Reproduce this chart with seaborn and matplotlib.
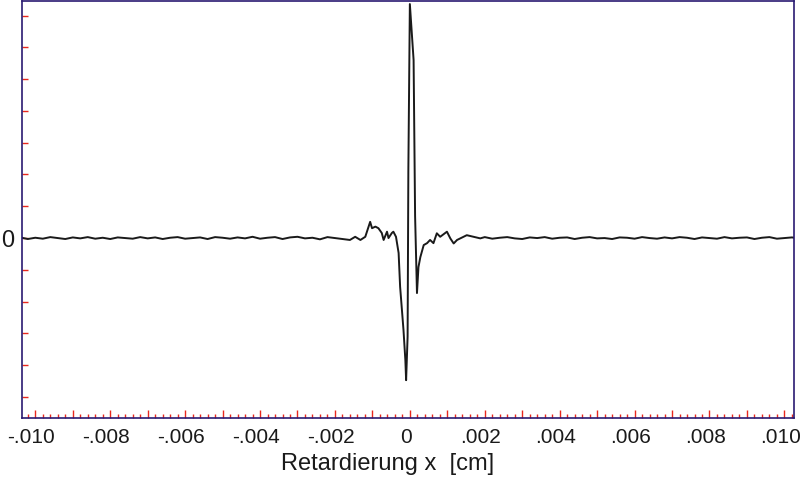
import numpy as np
import pandas as pd
import matplotlib
matplotlib.use('Agg')
import matplotlib.pyplot as plt
import matplotlib.transforms as mtransforms
import seaborn as sns
from matplotlib.ticker import MultipleLocator

# Interferogramm: Signal gegen Retardierung x [cm]
# Grundlinie links (leichtes Rauschen)
left_x = [-0.0104, -0.0102, -0.0100, -0.0098, -0.0096, -0.0094, -0.0092, -0.0090, -0.0088, -0.0086,
          -0.0084, -0.0082, -0.0080, -0.0078, -0.0076, -0.0074, -0.0072, -0.0070, -0.0068, -0.0066,
          -0.0064, -0.0062, -0.0060, -0.0058, -0.0056, -0.0054, -0.0052, -0.0050, -0.0048, -0.0046,
          -0.0044, -0.0042, -0.0040, -0.0038, -0.0036, -0.0034, -0.0032, -0.0030, -0.0028, -0.0026,
          -0.0024, -0.0022, -0.0020, -0.0018, -0.0016]
left_y = [0.02, -0.03, 0.01, -0.02, 0.03, 0.00, -0.03, 0.02, -0.01, 0.03,
          -0.02, 0.01, -0.03, 0.02, 0.00, -0.02, 0.03, -0.01, 0.02, -0.03,
          0.01, 0.03, -0.02, 0.00, 0.02, -0.03, 0.03, 0.01, -0.02, 0.02,
          -0.01, 0.04, -0.02, 0.01, 0.03, -0.03, 0.02, 0.04, -0.01, 0.01,
          -0.04, 0.03, 0.00, -0.03, -0.06]

# Zentraler Bereich um x = 0
center_x = [-0.00146, -0.00132, -0.00119, -0.00106, -0.00101, -0.00092, -0.00084, -0.00075, -0.00070, -0.00061,
            -0.00057, -0.00048, -0.00044, -0.00037, -0.00030, -0.00026, -0.00017, -0.00012, -0.00010, -0.00006,
            -0.00004, 0.00000, 0.00010, 0.00014, 0.00019, 0.00023, 0.00028, 0.00037, 0.00046, 0.00054,
            0.00063, 0.00072, 0.00081, 0.00099, 0.00108, 0.00117, 0.00126, 0.00152, 0.00188]
center_y = [0.04, -0.06, 0.04, 0.51, 0.31, 0.36, 0.31, 0.16, -0.06, 0.20,
            0.00, 0.16, 0.20, 0.04, -0.47, -1.53, -2.89, -3.84, -4.47, -3.10,
            2.14, 7.36, 5.60, 0.69, -1.73, -0.91, -0.60, -0.22, -0.16, -0.06,
            -0.16, 0.15, 0.04, 0.20, -0.01, -0.17, -0.06, 0.09, -0.01]

# Grundlinie rechts
right_x = [0.0020, 0.0022, 0.0024, 0.0026, 0.0028, 0.0030, 0.0032, 0.0034, 0.0036, 0.0038,
           0.0040, 0.0042, 0.0044, 0.0046, 0.0048, 0.0050, 0.0052, 0.0054, 0.0056, 0.0058,
           0.0060, 0.0062, 0.0064, 0.0066, 0.0068, 0.0070, 0.0072, 0.0074, 0.0076, 0.0078,
           0.0080, 0.0082, 0.0084, 0.0086, 0.0088, 0.0090, 0.0092, 0.0094, 0.0096, 0.0098,
           0.0100, 0.0102, 0.0104]
right_y = [0.03, -0.02, 0.01, 0.03, -0.01, -0.03, 0.02, 0.00, 0.03, -0.02,
           0.01, 0.02, -0.03, 0.01, 0.03, -0.01, 0.00, -0.03, 0.02, 0.01,
           -0.02, 0.03, 0.00, -0.02, 0.02, -0.01, 0.03, 0.01, -0.03, 0.02,
           0.00, -0.02, 0.03, -0.01, 0.01, 0.02, -0.03, 0.01, 0.03, -0.02,
           0.00, 0.02, -0.01]

# Achsenbeschriftung
x_label_pos = [-0.010, -0.008, -0.006, -0.004, -0.002, 0.0, 0.002, 0.004, 0.006, 0.008, 0.010]
x_label_text = ['-.010', '-.008', '-.006', '-.004', '-.002', '0', '.002', '.004', '.006', '.008', '.010']
y_ticks = [-5, -4, -3, -2, -1, 0, 1, 2, 3, 4, 5, 6, 7]

df = pd.DataFrame({
    'x': left_x + center_x + right_x,
    'signal': left_y + center_y + right_y,
})

sns.set_style('white')
plt.rcParams['font.family'] = ['Liberation Sans', 'DejaVu Sans']

spine_col = '#2a1a72'
tick_col = '#e8281e'

fig = plt.figure(figsize=(8, 4.78), dpi=100)
ax = fig.add_axes([0.027, 0.1255, 0.966, 0.872])

sns.lineplot(data=df, x='x', y='signal', ax=ax, color='#1a1a1a', linewidth=1.4,
             estimator=None, sort=True)

ax.set_xlim(-0.010366, 0.010267)
ax.set_ylim(-5.66, 7.45)

# x-Ticks: lange Striche alle 0.001, Beschriftung alle 0.002
major_pos = np.round(np.arange(-0.010, 0.0105, 0.001), 4)
major_lab = []
for p in major_pos:
    match = [t for q, t in zip(x_label_pos, x_label_text) if abs(q - p) < 1e-7]
    major_lab.append(match[0] if match else '')
ax.set_xticks(major_pos, major_lab)
ax.xaxis.set_minor_locator(MultipleLocator(0.0002))

ax.set_yticks(y_ticks, ['0' if v == 0 else '' for v in y_ticks])

ax.tick_params(axis='x', which='major', direction='in', length=5.5, width=1,
               color=tick_col, labelsize=15, pad=7, top=False, bottom=True,
               labelcolor='#1a1a1a')
ax.tick_params(axis='x', which='minor', direction='in', length=3, width=1,
               color=tick_col, top=False, bottom=True)
ax.tick_params(axis='y', which='major', direction='in', length=4.5, width=1,
               color=tick_col, labelsize=17, pad=5, left=True, right=False,
               labelcolor='#1a1a1a')

# Beschriftungen leicht nach links versetzt wie im Original
shift = mtransforms.ScaledTranslation(-4 / 100, 0, fig.dpi_scale_trans)
for lab in ax.get_xticklabels():
    lab.set_transform(lab.get_transform() + shift)

for s in ax.spines.values():
    s.set_visible(True)
    s.set_color(spine_col)
    s.set_linewidth(1.2)

ax.set_xlabel('Retardierung x  [cm]', fontsize=17, color='#1a1a1a')
ax.xaxis.set_label_coords(0.474, -0.085)
ax.set_ylabel('')

fig.savefig('out.png', dpi=100, facecolor='white')
